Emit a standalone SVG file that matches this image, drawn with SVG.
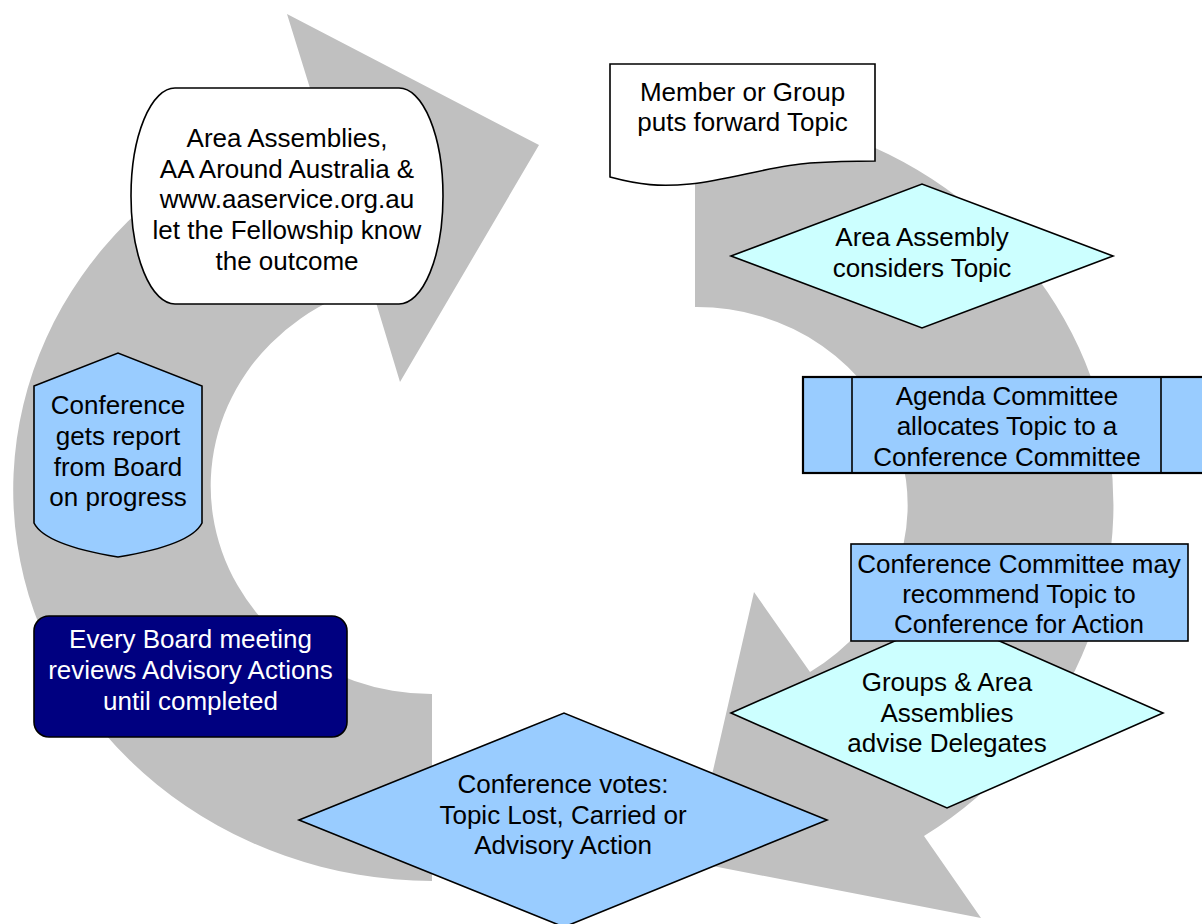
<svg xmlns="http://www.w3.org/2000/svg" width="1202" height="924" viewBox="0 0 1202 924">
  <style>
    .arrow { fill: #C0C0C0; stroke: none; }
    .shape { stroke: #000000; stroke-width: 1.6; stroke-linejoin: miter; }
    .white { fill: #FFFFFF; }
    .cyan { fill: #CCFFFF; }
    .blue { fill: #99CCFF; }
    .navy { fill: #000080; }
    text { font-family: "Liberation Sans", Arial, sans-serif; font-size: 26px; text-anchor: middle; fill: #000000; }
    text.light { fill: #FFFFFF; }
  </style>
  <rect width="1202" height="924" fill="#FFFFFF"/>

  <g id="connectors">
    <path class="arrow" d="M695,109 A420,396 0 0 1 924,836 L981,918 L692,862 L754,592 L810,672 A211,198 0 0 0 695,307 Z"/>
    <path class="arrow" d="M432,881 A420,391 0 0 1 318,114 L287,14 L539,145 L400,382 L371,286 A221,208 0 0 0 432,694 Z"/>
  </g>

  <g id="node-member">
    <path class="shape white" d="M610,64 H875 V161 C860,161 840,161 810,163 C770,166 730,180 690,184 C660,187 640,185 610,177 Z"/>
    <text x="742.5" y="101">Member or Group</text>
    <text x="742.5" y="131">puts forward Topic</text>
  </g>

  <g id="node-area-assembly">
    <path class="shape cyan" d="M731,256 L922,184 L1113,256 L922,328 Z"/>
    <text x="922" y="246">Area Assembly</text>
    <text x="922" y="277">considers Topic</text>
  </g>

  <g id="node-agenda">
    <rect class="shape blue" x="803" y="377" width="407" height="96" style="stroke-width:2.2"/>
    <line x1="852" y1="377" x2="852" y2="473" stroke="#000000" stroke-width="1.6"/>
    <line x1="1161" y1="377" x2="1161" y2="473" stroke="#000000" stroke-width="1.6"/>
    <text x="1007" y="405">Agenda Committee</text>
    <text x="1007" y="435">allocates Topic to a</text>
    <text x="1007" y="466">Conference Committee</text>
  </g>

  <g id="node-groups">
    <path class="shape cyan" d="M731,713 L947,618 L1163,713 L947,808 Z"/>
    <text x="947" y="691">Groups &amp; Area</text>
    <text x="947" y="722">Assemblies</text>
    <text x="947" y="752">advise Delegates</text>
  </g>

  <g id="node-conf-committee">
    <rect class="shape blue" x="851" y="544" width="337" height="97"/>
    <text x="1019" y="573">Conference Committee may</text>
    <text x="1019" y="603">recommend Topic to</text>
    <text x="1019" y="633">Conference for Action</text>
  </g>

  <g id="node-conf-votes">
    <path class="shape blue" d="M299,820 L564,713 L827,820 L564,927 Z"/>
    <text x="563" y="793">Conference votes:</text>
    <text x="563" y="824">Topic Lost, Carried or</text>
    <text x="563" y="854">Advisory Action</text>
  </g>

  <g id="node-board">
    <rect class="shape navy" x="34" y="616" width="313" height="121" rx="15" ry="15"/>
    <text class="light" x="190.5" y="648">Every Board meeting</text>
    <text class="light" x="190.5" y="679">reviews Advisory Actions</text>
    <text class="light" x="190.5" y="710">until completed</text>
  </g>

  <g id="node-conf-report">
    <path class="shape blue" d="M34,386 L118,353 L202,386 L202,523 Q191,545 118,557 Q45,545 34,523 Z"/>
    <text x="118" y="414">Conference</text>
    <text x="118" y="445">gets report</text>
    <text x="118" y="476">from Board</text>
    <text x="118" y="506">on progress</text>
  </g>

  <g id="node-fellowship">
    <path class="shape white" d="M175,88 H399 A44,108 0 0 1 399,304 H175 A44,108 0 0 1 175,88 Z"/>
    <text x="287" y="147">Area Assemblies,</text>
    <text x="287" y="178">AA Around Australia &amp;</text>
    <text x="287" y="208">www.aaservice.org.au</text>
    <text x="287" y="239">let the Fellowship know</text>
    <text x="287" y="270">the outcome</text>
  </g>
</svg>
